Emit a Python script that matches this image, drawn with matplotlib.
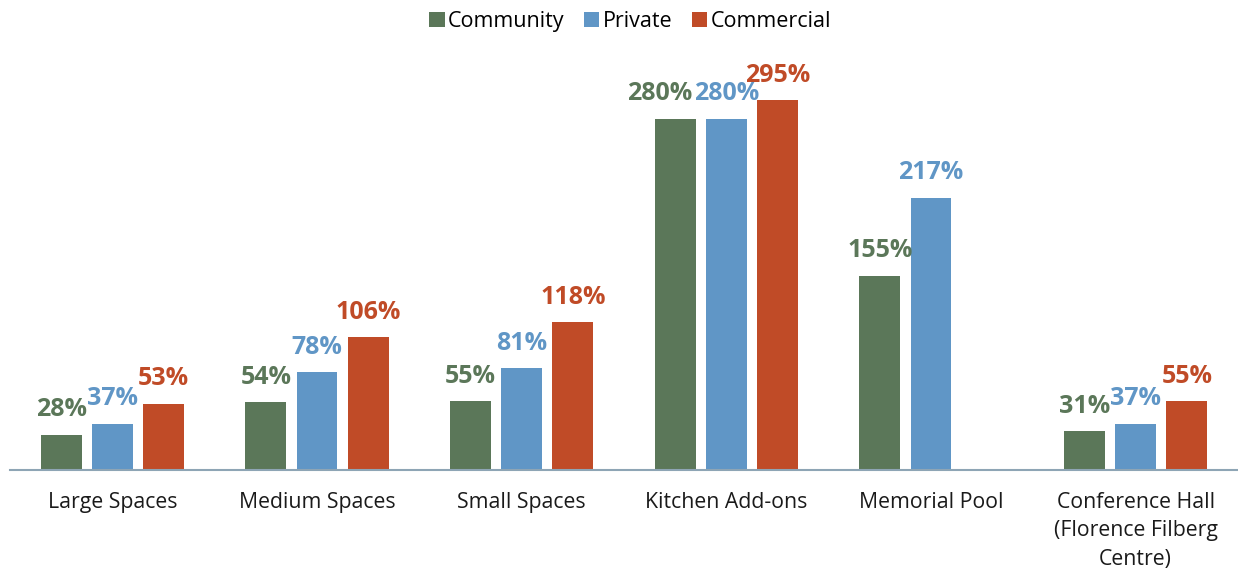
import matplotlib
matplotlib.use("Agg")
import matplotlib.pyplot as plt
import numpy as np

categories = ["Large Spaces", "Medium Spaces", "Small Spaces", "Kitchen Add-ons",
              "Memorial Pool", "Conference Hall\n(Florence Filberg\nCentre)"]
series_names = ["Community", "Private", "Commercial"]
community = [28, 54, 55, 280, 155, 31]
private = [37, 78, 81, 280, 217, 37]
commercial = [53, 106, 118, 295, None, 55]
colors = ["#5B7759", "#6096C6", "#C04B27"]

plt.rcParams['font.family'] = ['Open Sans', 'DejaVu Sans']

fig = plt.figure(figsize=(12.38, 5.73), dpi=100)
ax = fig.add_axes([10/1238, 1 - 470/573, 1228/1238, (470 - 45)/573])

x = np.arange(len(categories))
width = 0.2
offsets = [-0.25, 0, 0.25]
# horizontal nudge (points) for labels that would collide: (series index, category index)
label_nudge = {(0, 3): -11}
for si, (vals, off, col, name) in enumerate(zip([community, private, commercial], offsets, colors, series_names)):
    idx = [i for i, v in enumerate(vals) if v is not None]
    xs = [x[i] + off for i in idx]
    vs = [vals[i] for i in idx]
    bars = ax.bar(xs, vs, width=width, color=col, label=name)
    for i, b, v in zip(idx, bars, vs):
        dx = label_nudge.get((si, i), 0)
        ax.annotate(f"{v}%", (b.get_x() + b.get_width() / 2, b.get_height()),
                    xytext=(dx, 9), textcoords="offset points", ha="center", va="bottom",
                    fontsize=18, fontweight="bold", color=col)

ax.set_xlim(-0.5, len(categories) - 0.5)
ax.set_ylim(0, (470 - 45) / 1.254)
ax.set_xticks(x)
ax.set_xticklabels(categories, fontsize=15.3, color="#1a1a1a", linespacing=1.45, va="top")
ax.tick_params(axis="x", length=0, pad=16)
ax.set_yticks([])
for s in ["top", "right", "left"]:
    ax.spines[s].set_visible(False)
ax.spines["bottom"].set_color("#8EA5B5")
ax.spines["bottom"].set_linewidth(1.5)

fig.legend(loc="upper center", bbox_to_anchor=(630/1238, 1.0), ncol=3, frameon=False,
           fontsize=15.5, handlelength=0.72, handleheight=0.72, handletextpad=0.15,
           columnspacing=0.9, borderaxespad=0.1)

fig.savefig("out.png", dpi=100)
